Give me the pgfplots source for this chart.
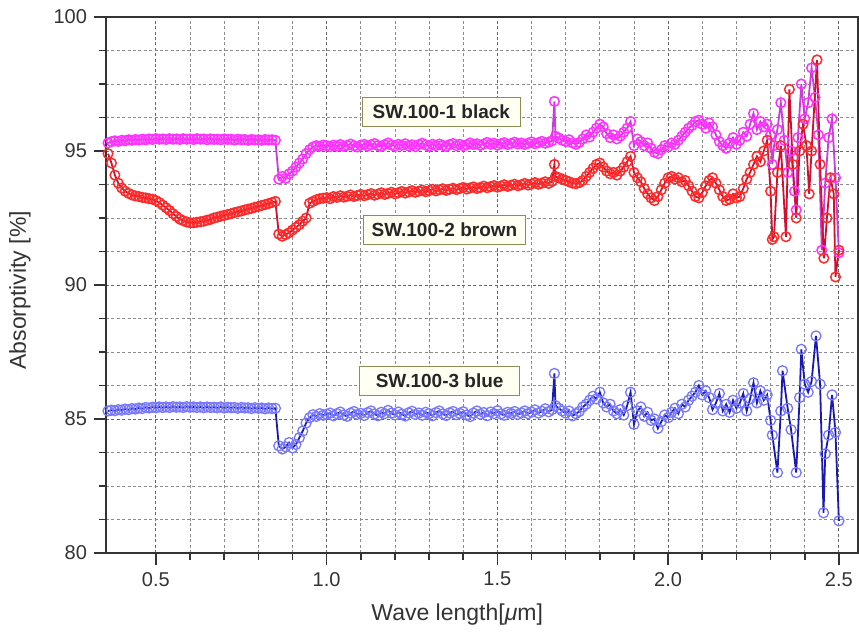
\documentclass[border=0pt]{standalone}
\usepackage{pgfplots}
\usepackage{pgfplotstable}
\pgfplotsset{compat=1.18}
\usepackage{fontspec}
\setmainfont{Liberation Sans}

\definecolor{magMark}{HTML}{FF33FF}
\definecolor{magLine}{HTML}{C83CD8}
\definecolor{redMark}{HTML}{FF2A2A}
\definecolor{redLine}{HTML}{D01030}
\definecolor{bluMark}{HTML}{7878FF}
\definecolor{bluLine}{HTML}{1A1AB0}
\definecolor{boxEdge}{HTML}{8C8C55}
\definecolor{boxFill}{HTML}{FFFFF2}
\definecolor{axisGray}{HTML}{333333}

% SW.100-1 black
\pgfplotstableread{
x y
0.36 95.30
0.37 95.35
0.38 95.38
0.39 95.36
0.40 95.40
0.41 95.38
0.42 95.42
0.43 95.40
0.44 95.43
0.45 95.41
0.46 95.44
0.47 95.42
0.48 95.45
0.49 95.43
0.50 95.46
0.51 95.44
0.52 95.45
0.53 95.43
0.54 95.46
0.55 95.44
0.56 95.45
0.57 95.43
0.58 95.46
0.59 95.44
0.60 95.45
0.61 95.43
0.62 95.46
0.63 95.44
0.64 95.45
0.65 95.42
0.66 95.45
0.67 95.43
0.68 95.44
0.69 95.42
0.70 95.45
0.71 95.43
0.72 95.44
0.73 95.41
0.74 95.44
0.75 95.42
0.76 95.43
0.77 95.40
0.78 95.43
0.79 95.41
0.80 95.42
0.81 95.40
0.82 95.43
0.83 95.41
0.84 95.42
0.85 95.40
0.86 93.95
0.87 94.05
0.88 93.98
0.89 94.15
0.90 94.25
0.91 94.40
0.92 94.55
0.93 94.70
0.94 94.90
0.95 95.05
0.96 95.15
0.97 95.20
0.98 95.18
0.99 95.22
1.00 95.20
1.01 95.16
1.02 95.22
1.03 95.18
1.04 95.24
1.05 95.17
1.06 95.21
1.07 95.26
1.08 95.19
1.09 95.15
1.10 95.22
1.11 95.25
1.12 95.18
1.13 95.23
1.14 95.28
1.15 95.20
1.16 95.17
1.17 95.24
1.18 95.30
1.19 95.22
1.20 95.18
1.21 95.25
1.22 95.21
1.23 95.27
1.24 95.19
1.25 95.23
1.26 95.16
1.27 95.24
1.28 95.29
1.29 95.22
1.30 95.18
1.31 95.25
1.32 95.20
1.33 95.26
1.34 95.21
1.35 95.17
1.36 95.24
1.37 95.28
1.38 95.20
1.39 95.25
1.40 95.19
1.41 95.23
1.42 95.30
1.43 95.24
1.44 95.27
1.45 95.21
1.46 95.26
1.47 95.32
1.48 95.25
1.49 95.29
1.50 95.22
1.51 95.27
1.52 95.31
1.53 95.24
1.54 95.28
1.55 95.33
1.56 95.26
1.57 95.30
1.58 95.24
1.59 95.29
1.60 95.34
1.61 95.27
1.62 95.31
1.63 95.36
1.64 95.29
1.65 95.33
1.66 95.38
1.667 96.85
1.67 95.55
1.68 95.48
1.69 95.40
1.70 95.35
1.71 95.42
1.72 95.30
1.73 95.25
1.74 95.32
1.75 95.45
1.76 95.60
1.77 95.52
1.78 95.70
1.79 95.85
1.80 96.00
1.81 95.90
1.82 95.65
1.83 95.50
1.84 95.60
1.85 95.45
1.86 95.55
1.87 95.70
1.88 95.85
1.89 96.10
1.90 95.20
1.91 95.45
1.92 95.35
1.93 95.20
1.94 95.30
1.95 95.10
1.96 94.95
1.97 94.90
1.98 95.05
1.99 95.20
2.00 95.15
2.01 95.30
2.02 95.25
2.03 95.40
2.04 95.55
2.05 95.70
2.06 95.85
2.07 95.95
2.08 96.10
2.09 96.15
2.10 96.00
2.11 95.85
2.12 96.05
2.13 95.90
2.14 95.60
2.15 95.35
2.16 95.20
2.17 95.10
2.18 95.30
2.19 95.50
2.20 95.25
2.21 95.40
2.22 95.70
2.23 95.55
2.24 96.00
2.25 96.40
2.26 95.80
2.27 96.10
2.28 95.90
2.29 96.00
2.30 95.60
2.305 94.50
2.31 95.20
2.32 95.80
2.33 96.80
2.34 95.40
2.35 94.20
2.36 95.00
2.37 93.50
2.375 92.80
2.38 95.50
2.39 97.50
2.40 96.20
2.41 96.80
2.42 98.10
2.43 97.00
2.44 95.60
2.45 91.30
2.46 93.80
2.47 95.50
2.48 96.20
2.49 94.00
2.50 91.20
}\blackdata

% SW.100-2 brown
\pgfplotstableread{
x y
0.36 94.90
0.37 94.55
0.38 94.10
0.39 93.80
0.40 93.62
0.41 93.50
0.42 93.42
0.43 93.36
0.44 93.32
0.45 93.30
0.46 93.27
0.47 93.25
0.48 93.22
0.49 93.20
0.50 93.15
0.51 93.08
0.52 92.98
0.53 92.88
0.54 92.78
0.55 92.66
0.56 92.56
0.57 92.46
0.58 92.40
0.59 92.35
0.60 92.32
0.61 92.32
0.62 92.34
0.63 92.36
0.64 92.38
0.65 92.42
0.66 92.45
0.67 92.50
0.68 92.53
0.69 92.57
0.70 92.60
0.71 92.63
0.72 92.66
0.73 92.70
0.74 92.73
0.75 92.76
0.76 92.80
0.77 92.83
0.78 92.86
0.79 92.90
0.80 92.93
0.81 92.97
0.82 93.00
0.83 93.04
0.84 93.08
0.85 93.12
0.86 91.90
0.87 91.82
0.88 91.88
0.89 91.95
0.90 92.05
0.91 92.15
0.92 92.25
0.93 92.38
0.94 92.50
0.95 93.05
0.96 93.12
0.97 93.18
0.98 93.22
0.99 93.24
1.00 93.26
1.01 93.22
1.02 93.30
1.03 93.27
1.04 93.33
1.05 93.28
1.06 93.31
1.07 93.36
1.08 93.30
1.09 93.34
1.10 93.38
1.11 93.33
1.12 93.37
1.13 93.41
1.14 93.35
1.15 93.39
1.16 93.44
1.17 93.38
1.18 93.42
1.19 93.46
1.20 93.40
1.21 93.44
1.22 93.49
1.23 93.43
1.24 93.47
1.25 93.52
1.26 93.46
1.27 93.50
1.28 93.54
1.29 93.48
1.30 93.52
1.31 93.57
1.32 93.51
1.33 93.55
1.34 93.59
1.35 93.53
1.36 93.57
1.37 93.61
1.38 93.56
1.39 93.60
1.40 93.64
1.41 93.58
1.42 93.62
1.43 93.66
1.44 93.60
1.45 93.64
1.46 93.69
1.47 93.63
1.48 93.67
1.49 93.71
1.50 93.65
1.51 93.69
1.52 93.74
1.53 93.68
1.54 93.72
1.55 93.76
1.56 93.70
1.57 93.74
1.58 93.79
1.59 93.73
1.60 93.77
1.61 93.82
1.62 93.76
1.63 93.80
1.64 93.85
1.65 93.79
1.66 93.86
1.667 94.50
1.67 94.05
1.68 94.00
1.69 93.95
1.70 93.90
1.71 93.85
1.72 93.80
1.73 93.78
1.74 93.82
1.75 93.90
1.76 94.05
1.77 94.20
1.78 94.35
1.79 94.50
1.80 94.55
1.81 94.40
1.82 94.25
1.83 94.15
1.84 94.20
1.85 94.10
1.86 94.25
1.87 94.40
1.88 94.60
1.89 94.80
1.90 94.20
1.91 94.00
1.92 93.85
1.93 93.60
1.94 93.40
1.95 93.25
1.96 93.15
1.97 93.30
1.98 93.55
1.99 93.80
2.00 94.00
2.01 94.05
2.02 93.95
2.03 94.00
2.04 93.85
2.05 93.90
2.06 93.70
2.07 93.50
2.08 93.30
2.09 93.25
2.10 93.45
2.11 93.70
2.12 93.90
2.13 94.00
2.14 93.80
2.15 93.55
2.16 93.30
2.17 93.15
2.18 93.20
2.19 93.40
2.20 93.25
2.21 93.30
2.22 93.60
2.23 93.95
2.24 94.20
2.25 94.50
2.26 94.80
2.27 94.60
2.28 95.00
2.29 95.40
2.30 93.50
2.305 91.70
2.31 91.80
2.32 94.20
2.33 95.20
2.345 91.80
2.355 97.30
2.365 94.50
2.375 92.50
2.385 95.00
2.395 96.00
2.405 95.20
2.413 93.40
2.42 95.00
2.436 98.40
2.445 94.50
2.456 91.00
2.465 92.50
2.475 94.00
2.485 93.40
2.49 90.30
2.50 91.30
}\browndata

% SW.100-3 blue
\pgfplotstableread{
x y
0.36 85.30
0.37 85.33
0.38 85.31
0.39 85.35
0.40 85.33
0.41 85.37
0.42 85.35
0.43 85.39
0.44 85.37
0.45 85.41
0.46 85.39
0.47 85.43
0.48 85.41
0.49 85.44
0.50 85.42
0.51 85.45
0.52 85.43
0.53 85.45
0.54 85.43
0.55 85.46
0.56 85.44
0.57 85.45
0.58 85.43
0.59 85.46
0.60 85.44
0.61 85.45
0.62 85.43
0.63 85.45
0.64 85.42
0.65 85.45
0.66 85.43
0.67 85.44
0.68 85.42
0.69 85.45
0.70 85.41
0.71 85.44
0.72 85.42
0.73 85.43
0.74 85.40
0.75 85.43
0.76 85.41
0.77 85.42
0.78 85.39
0.79 85.42
0.80 85.40
0.81 85.41
0.82 85.38
0.83 85.41
0.84 85.39
0.85 85.40
0.86 84.00
0.87 83.88
0.88 83.96
0.89 84.12
0.90 83.92
0.91 84.05
0.92 84.30
0.93 84.55
0.94 84.85
0.95 85.05
0.96 85.16
0.97 85.10
0.98 85.20
0.99 85.14
1.00 85.18
1.01 85.22
1.02 85.12
1.03 85.20
1.04 85.26
1.05 85.15
1.06 85.10
1.07 85.22
1.08 85.28
1.09 85.17
1.10 85.21
1.11 85.13
1.12 85.24
1.13 85.30
1.14 85.19
1.15 85.12
1.16 85.25
1.17 85.20
1.18 85.32
1.19 85.22
1.20 85.15
1.21 85.26
1.22 85.18
1.23 85.11
1.24 85.23
1.25 85.29
1.26 85.17
1.27 85.22
1.28 85.14
1.29 85.25
1.30 85.20
1.31 85.12
1.32 85.24
1.33 85.30
1.34 85.19
1.35 85.13
1.36 85.23
1.37 85.28
1.38 85.16
1.39 85.21
1.40 85.27
1.41 85.15
1.42 85.09
1.43 85.22
1.44 85.30
1.45 85.18
1.46 85.24
1.47 85.12
1.48 85.26
1.49 85.20
1.50 85.31
1.51 85.19
1.52 85.14
1.53 85.25
1.54 85.21
1.55 85.28
1.56 85.17
1.57 85.23
1.58 85.30
1.59 85.20
1.60 85.26
1.61 85.34
1.62 85.22
1.63 85.29
1.64 85.38
1.65 85.27
1.66 85.35
1.667 86.70
1.67 85.50
1.68 85.40
1.69 85.30
1.70 85.22
1.71 85.30
1.72 85.12
1.73 85.20
1.74 85.28
1.75 85.45
1.76 85.55
1.77 85.70
1.78 85.85
1.79 85.75
1.80 86.00
1.81 85.60
1.82 85.45
1.83 85.55
1.84 85.30
1.85 85.20
1.86 85.35
1.87 85.15
1.88 85.50
1.89 86.00
1.90 84.80
1.91 85.30
1.92 85.45
1.93 85.10
1.94 85.25
1.95 84.95
1.96 85.00
1.97 84.65
1.98 84.90
1.99 85.15
2.00 85.05
2.01 85.25
2.02 85.40
2.03 85.20
2.04 85.55
2.05 85.45
2.06 85.70
2.07 85.85
2.08 86.00
2.09 86.25
2.10 85.90
2.11 86.05
2.12 85.80
2.13 85.35
2.14 85.60
2.15 85.95
2.16 85.30
2.17 85.55
2.18 85.25
2.19 85.70
2.20 85.40
2.21 85.60
2.22 85.95
2.23 85.30
2.24 85.75
2.25 86.35
2.26 85.60
2.27 86.05
2.28 85.70
2.29 85.90
2.30 84.95
2.305 84.40
2.32 83.00
2.33 85.30
2.335 86.80
2.35 85.40
2.36 84.60
2.375 83.00
2.385 85.80
2.39 87.60
2.40 86.30
2.41 86.00
2.42 86.40
2.433 88.10
2.445 86.30
2.455 81.50
2.46 83.70
2.47 84.40
2.48 85.90
2.49 84.50
2.50 81.20
}\bluedata

\begin{document}
\begin{tikzpicture}
\begin{axis}[
  scale only axis,
  width=376pt, height=268pt,
  xmin=0.354, xmax=2.556,
  ymin=80, ymax=100,
  xtick={0.5,1.0,1.5,2.0,2.5},
  ytick={80,85,90,95,100},
  minor x tick num=4,
  minor y tick num=3,
  tick align=outside,
  xtick pos=bottom, ytick pos=left,
  major tick length=6pt,
  minor tick length=3.5pt,
  every tick/.style={axisGray, line width=0.8pt},
  axis line style={axisGray, line width=1pt},
  grid=both,
  major grid style={black!60, line width=0.45pt, dash pattern=on 1.5pt off 1.2pt},
  minor grid style={black!45, line width=0.4pt, dash pattern=on 1.5pt off 1.2pt},
  /pgf/number format/assume math mode=true,
  xticklabel style={/pgf/number format/fixed, /pgf/number format/fixed zerofill, /pgf/number format/precision=1},
  ticklabel style={font=\fontsize{10}{12}\selectfont, text=axisGray},
  label style={font=\fontsize{11.5}{13}\selectfont, text=axisGray},
  xlabel={Wave length[\textit{μ}m]},
  ylabel={Absorptivity [\%]},
  xlabel style={at={(axis description cs:0.467,-0.114)}, anchor=center},
  ylabel style={at={(axis description cs:-0.1144,0.49)}, anchor=center},
  clip=true,
]
\addplot[magLine, line width=0.9pt, mark=o, mark size=2.4pt,
  mark options={draw=magMark, line width=0.75pt, solid}] table {\blackdata};
\addplot[redLine, line width=0.9pt, mark=o, mark size=2.4pt,
  mark options={draw=redMark, line width=0.75pt, solid}] table {\browndata};
\addplot[bluLine, line width=0.9pt, mark=o, mark size=2.5pt,
  mark options={draw=bluMark, line width=0.65pt, solid}] table {\bluedata};

\node[draw=boxEdge, fill=boxFill, line width=0.8pt, minimum width=79pt,
  minimum height=14.5pt, inner sep=1pt, text=black!85,
  font=\fontsize{9.5}{11}\selectfont\bfseries]
  at (axis cs:1.336,96.46) {SW.100-1 black};
\node[draw=boxEdge, fill=boxFill, line width=0.8pt, minimum width=81pt,
  minimum height=14.5pt, inner sep=1pt, text=black!85,
  font=\fontsize{9.5}{11}\selectfont\bfseries]
  at (axis cs:1.345,92.05) {SW.100-2 brown};
\node[draw=boxEdge, fill=boxFill, line width=0.8pt, minimum width=80pt,
  minimum height=14.5pt, inner sep=1pt, text=black!85,
  font=\fontsize{9.5}{11}\selectfont\bfseries]
  at (axis cs:1.331,86.42) {SW.100-3 blue};
\end{axis}
\pgfresetboundingbox
\path ([xshift=-53pt,yshift=-42.5pt]current axis.south west)
  rectangle ([xshift=0.5pt,yshift=8.5pt]current axis.north east);
\end{tikzpicture}
\end{document}
